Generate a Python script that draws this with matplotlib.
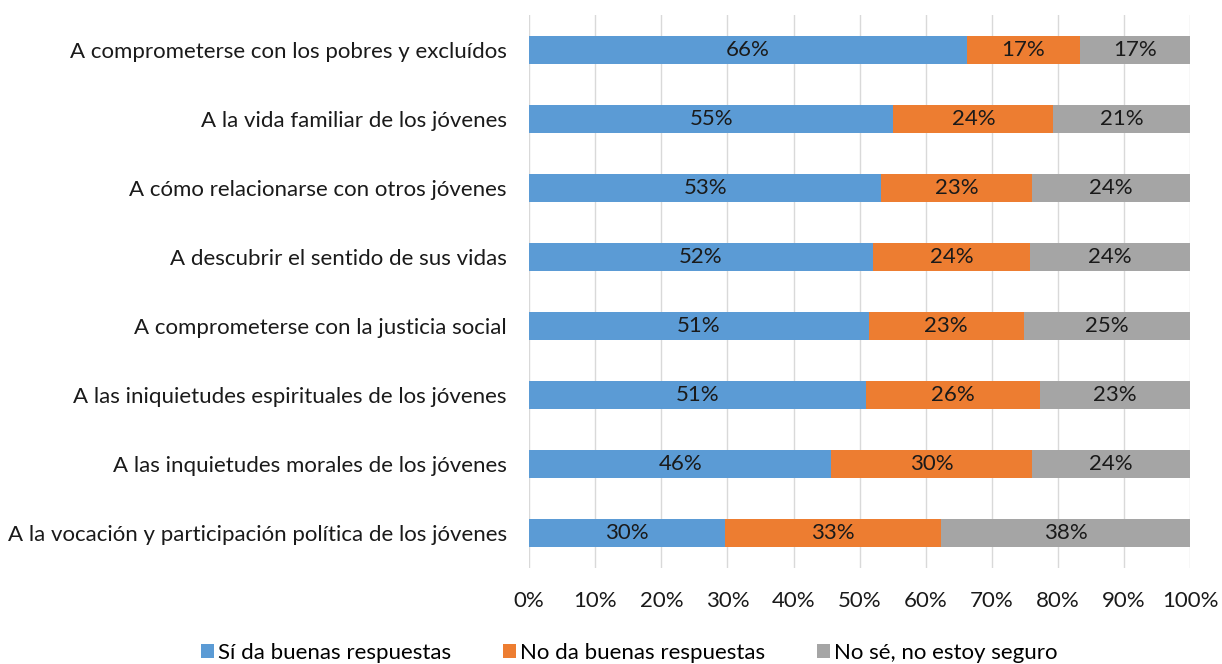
import matplotlib
matplotlib.use("Agg")
import matplotlib.pyplot as plt
import numpy as np

plt.rcParams['font.family'] = ['Lato', 'DejaVu Sans']

categories = [
    "A comprometerse con los pobres y excluídos",
    "A la vida familiar de los jóvenes",
    "A cómo relacionarse con otros jóvenes",
    "A descubrir el sentido de sus vidas",
    "A comprometerse con la justicia social",
    "A las iniquietudes espirituales de los jóvenes",
    "A las inquietudes morales de los jóvenes",
    "A la vocación y participación política de los jóvenes",
]
si_da = [66.2, 55.1, 53.3, 52.0, 51.4, 51.0, 45.7, 29.7]
no_da = [17.1, 24.2, 22.7, 23.8, 23.4, 26.3, 30.4, 32.6]
no_se = [16.7, 20.7, 24.0, 24.2, 25.2, 22.7, 23.9, 37.7]
series_names = ["Sí da buenas respuestas", "No da buenas respuestas", "No sé, no estoy seguro"]
colors = ["#5B9BD5", "#ED7D31", "#A5A5A5"]
xticks = [0, 10, 20, 30, 40, 50, 60, 70, 80, 90, 100]

FS = 16

fig = plt.figure(figsize=(12.22, 6.64), dpi=100)
ax = fig.add_axes([0.433, 0.145, 0.541, 0.832])

y = np.arange(len(categories))
left = np.zeros(len(categories))
for vals, name, col in zip([si_da, no_da, no_se], series_names, colors):
    vals = np.array(vals)
    ax.barh(y, vals, left=left, height=0.41, color=col, label=name, zorder=3)
    for yi, l, v in zip(y, left, vals):
        ax.text(l + v / 2, yi, f"{int(v + 0.5)}%", ha='center', va='center',
                fontsize=FS, color='#1a1a1a', zorder=4)
    left += vals

ax.set_xlim(0, 100)
ax.set_ylim(len(categories) - 0.5, -0.5)
ax.set_yticks(y)
ax.set_yticklabels(categories, fontsize=FS, color='#1a1a1a')
ax.set_xticks(xticks)
ax.set_xticklabels([f"{t}%" for t in xticks], fontsize=FS, color='#1a1a1a')
ax.tick_params(axis='both', length=0)
ax.tick_params(axis='x', pad=17)
ax.tick_params(axis='y', pad=16)
ax.grid(axis='x', color='#D9D9D9', linewidth=1, zorder=0)
for s in ax.spines.values():
    s.set_visible(False)

handles, labels = ax.get_legend_handles_labels()
fig.legend(handles, labels, loc='lower center', bbox_to_anchor=(0.515, -0.028), ncol=3,
           frameon=False, fontsize=FS, handlelength=0.6, handleheight=0.6,
           handletextpad=0.2, columnspacing=2.3)

fig.savefig("out.png", dpi=100)
